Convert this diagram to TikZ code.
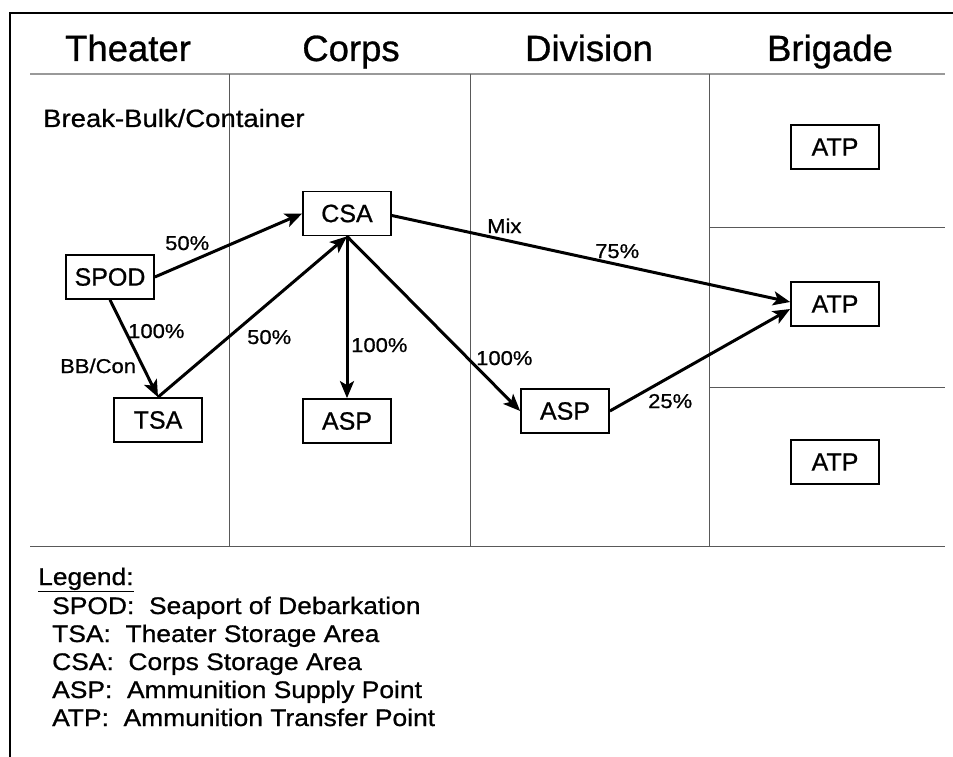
\documentclass[tikz,border=0pt]{standalone}
\usepackage{fontspec}
\setmainfont{Liberation Sans}[FakeBold=0.8]
\newfontfamily\widefont{Liberation Sans}[FakeStretch=1.1, FakeBold=0.8]
\usetikzlibrary{arrows.meta}
\tikzset{
  frameline/.style={line width=2.5pt, black},
  gridline/.style={line width=1pt, black!65},
  headline/.style={line width=1.2pt, black!40},
  box/.style={draw, line width=1.7pt, minimum width=88pt, minimum height=44pt, inner sep=0pt, font=\fontsize{25}{30}\selectfont},
  header/.style={anchor=base, inner sep=0pt, font=\fontsize{36.5}{40}\selectfont},
  lbl/.style={anchor=base west, inner sep=0pt, font=\widefont\fontsize{20}{24}\selectfont},
  legline/.style={anchor=base west, inner sep=0pt, font=\widefont\fontsize{24}{28}\selectfont},
  flow/.style={line width=3pt, -{Stealth[length=17pt, width=14pt, inset=4pt]}}
}
\begin{document}
\begin{tikzpicture}[x=1pt, y=-1pt]
\useasboundingbox (0,0) rectangle (953,757);
% frame
\draw[frameline] (10,757) -- (10,13) -- (953,13);
% grid
\draw[headline] (30,74) -- (945,74);
\draw[gridline] (229,74) -- (229,546);
\draw[gridline] (470,74) -- (470,546);
\draw[gridline] (709,74) -- (709,546);
\draw[gridline] (30,546) -- (945,546);
\draw[gridline] (709,227) -- (945,227);
\draw[gridline] (709,387) -- (945,387);
% headers
\node[header] (hTheater) at (128,61) {Theater};
\node[header] (hCorps) at (351,61) {Corps};
\node[header] (hDivision) at (589,61) {Division};
\node[header] (hBrigade) at (830,61) {Brigade};
\node[anchor=base west, inner sep=0pt, font=\widefont\fontsize{25}{30}\selectfont] (bb) at (43,127) {Break-Bulk/Container};
% boxes
\node[box] (CSA) at (347,213.5) {CSA};
\node[box] (SPOD) at (110,277) {SPOD};
\node[box] (TSA) at (158,420) {TSA};
\node[box] (ASPc) at (347,421) {ASP};
\node[box] (ASPd) at (565,411) {ASP};
\node[box] (ATPt) at (835,147) {ATP};
\node[box] (ATPm) at (835,304) {ATP};
\node[box] (ATPb) at (835,462) {ATP};
% arrows
\draw[flow] (SPOD.east) -- (CSA.west);
\draw[flow] (SPOD.south) -- (TSA.north);
\draw[flow] (TSA.north) -- (CSA.south);
\draw[flow] (CSA.south) -- (ASPc.north);
\draw[flow] (CSA.south) -- (ASPd.west);
\draw[flow] ([yshift=-2pt]CSA.east) -- ([yshift=2pt]ATPm.west);
\draw[flow] (ASPd.east) -- ([yshift=-5pt]ATPm.west);
% labels
\node[lbl] (l1) at (165,250) {50\%};
\node[lbl] (l2) at (128,338) {100\%};
\node[lbl] (l3) at (60,373) {BB/Con};
\node[lbl] (l4) at (247,344) {50\%};
\node[lbl] (l5) at (351,352) {100\%};
\node[lbl] (l6) at (476,365) {100\%};
\node[lbl] (l7) at (487,233) {Mix};
\node[lbl] (l8) at (595,258) {75\%};
\node[lbl] (l9) at (648,408) {25\%};
% legend
\node[legline] (leg0) at (38,585) {\underline{Legend:}};
\node[legline] (leg1) at (52,614) {SPOD:\ \ Seaport of Debarkation};
\node[legline] (leg2) at (52,642) {TSA:\ \ Theater Storage Area};
\node[legline] (leg3) at (52,670) {CSA:\ \ Corps Storage Area};
\node[legline] (leg4) at (52,698) {ASP:\ \ Ammunition Supply Point};
\node[legline] (leg5) at (52,726) {ATP:\ \ Ammunition Transfer Point};
\end{tikzpicture}
\end{document}
